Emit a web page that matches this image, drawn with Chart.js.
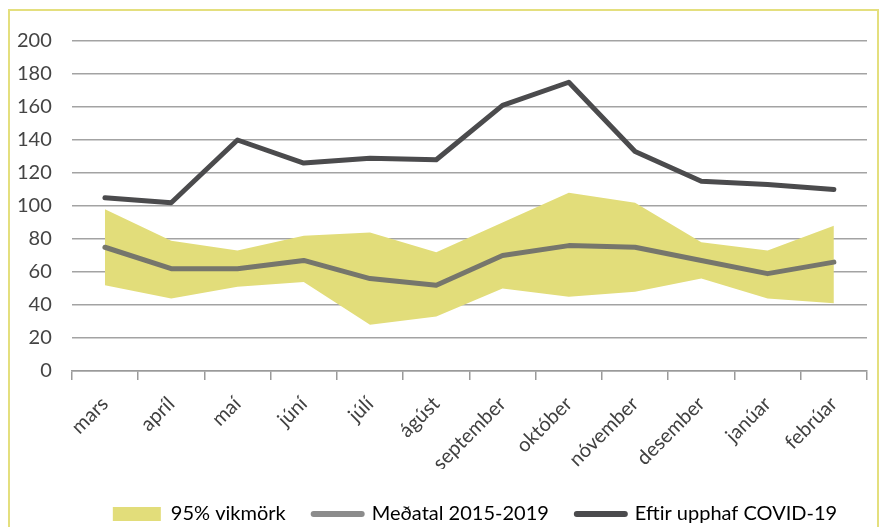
<!DOCTYPE html>
<html>
<head>
<meta charset="utf-8">
<script src="https://cdn.jsdelivr.net/npm/chart.js@4.4.1/dist/chart.umd.min.js"></script>
<style>
  html, body { margin: 0; padding: 0; background: #fff; overflow: hidden; }
  #frame { position: absolute; left: 8px; top: 9px; width: 867px; height: 540px; border: 2px solid #e4df7e; }
  #chart { position: absolute; left: 0; top: 0; }
</style>
</head>
<body>
<div id="frame"></div>
<canvas id="chart" width="881" height="527"></canvas>
<script>
const months = ["mars", "apríl", "maí", "júní", "júlí", "ágúst", "september", "október", "nóvember", "desember", "janúar", "febrúar"];
const covid = [105, 102, 140, 126, 129, 128, 161, 175, 133, 115, 113, 110];
const average = [75, 62, 62, 67, 56, 52, 70, 76, 75, 67, 59, 66];
const bandUpper = [98, 79, 73, 82, 84, 72, 90, 108, 102, 78, 73, 88];
const bandLower = [52, 44, 51, 54, 28, 33, 50, 45, 48, 56, 44, 41];

const YELLOW = "#e2dd7a";
const GREY = "#76766c";
const DARK = "#4b4b4d";

Chart.defaults.font.family = "Lato";

// move the legend a bit so it sits under the plot like the original
const legendShift = {
  id: "legendShift",
  afterLayout(chart) {
    const lg = chart.legend;
    lg.left += 43; lg.right += 43;
    lg.top += 7; lg.bottom += 7;
  },
};

new Chart(document.getElementById("chart"), {
  type: "line",
  data: {
    labels: months,
    datasets: [
      {
        label: "Eftir upphaf COVID-19",
        data: covid,
        borderColor: DARK,
        borderWidth: 5,
        borderCapStyle: "round",
        borderJoinStyle: "round",
        pointRadius: 0,
        fill: false,
      },
      {
        label: "Meðatal 2015-2019",
        data: average,
        borderColor: GREY,
        borderWidth: 5,
        borderCapStyle: "round",
        borderJoinStyle: "round",
        pointRadius: 0,
        fill: false,
      },
      {
        label: "lower",
        data: bandLower,
        borderWidth: 0,
        pointRadius: 0,
        fill: false,
      },
      {
        label: "95% vikmörk",
        data: bandUpper,
        borderWidth: 0,
        pointRadius: 0,
        backgroundColor: YELLOW,
        fill: "-1",
      },
    ],
  },
  options: {
    responsive: false,
    animation: false,
    layout: { padding: { top: 41, left: -3, right: 14, bottom: 0 } },
    plugins: {
      tooltip: { enabled: false },
      legend: {
        position: "bottom",
        labels: {
          usePointStyle: true,
          pointStyleWidth: 48,
          boxHeight: 14,
          padding: 28,
          color: "#444",
          font: { size: 20 },
          generateLabels: () => [
            { text: "95% vikmörk", pointStyle: "rect", fillStyle: YELLOW, strokeStyle: YELLOW, lineWidth: 0 },
            { text: "Meðatal 2015-2019", pointStyle: "line", fillStyle: "#8c8c8c", strokeStyle: "#8c8c8c", lineWidth: 6, lineCap: "round" },
            { text: "Eftir upphaf COVID-19", pointStyle: "line", fillStyle: DARK, strokeStyle: DARK, lineWidth: 6, lineCap: "round" },
          ],
        },
      },
    },
    scales: {
      x: {
        offset: true,
        grid: { offset: true, drawOnChartArea: false, drawTicks: true, tickLength: 9, color: "#9a9a9a", lineWidth: 1.5 },
        border: { display: true, color: "#9a9a9a", width: 1.5 },
        ticks: { minRotation: 45, maxRotation: 45, padding: 12, color: "#404040", font: { size: 20 } },
        afterFit(scale) {
          scale.height = 98;
          // rotated labels may hang past the plot edge, as in the original
          scale.paddingLeft = 0;
          scale.paddingRight = 0;
        },
      },
      y: {
        min: 0,
        max: 200,
        ticks: { stepSize: 20, padding: 20, color: "#444", font: { size: 20 } },
        grid: { drawTicks: false, color: "#a3a3a3", lineWidth: 1.5 },
        border: { display: false },
      },
    },
  },
  plugins: [legendShift],
});
</script>
</body>
</html>
